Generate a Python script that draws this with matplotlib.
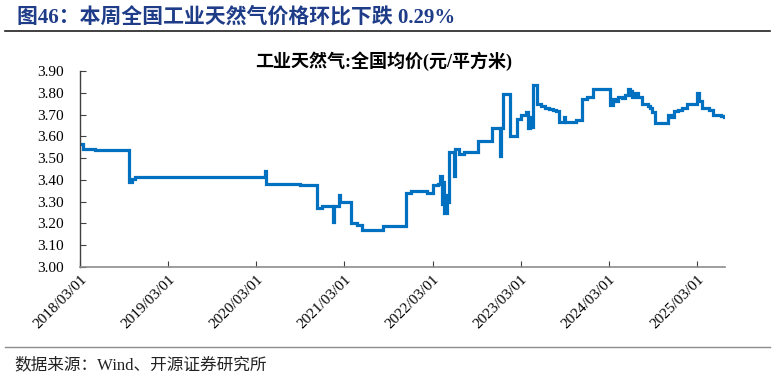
import matplotlib
matplotlib.use("Agg")
import matplotlib.pyplot as plt
import matplotlib.dates as mdates
import pandas as pd

# -----------------------------
# Data (step breakpoints)
# -----------------------------
dates = [
    "2018-03-01", "2018-03-13", "2018-05-02", "2018-09-20", "2018-10-02",
    "2018-10-14", "2020-04-05", "2020-04-09", "2020-08-28", "2020-11-06",
    "2020-11-27", "2021-01-12", "2021-01-16", "2021-02-06", "2021-02-10",
    "2021-03-30", "2021-04-20", "2021-05-14", "2021-08-08", "2021-11-12",
    "2021-12-03", "2022-02-07", "2022-03-01", "2022-03-22", "2022-03-30",
    "2022-04-11", "2022-04-15", "2022-04-19", "2022-04-28", "2022-05-02",
    "2022-05-10", "2022-05-27", "2022-05-31", "2022-06-17", "2022-07-11",
    "2022-09-07", "2022-11-04", "2022-12-07", "2022-12-11", "2022-12-20",
    "2023-01-14", "2023-02-12", "2023-03-01", "2023-03-22", "2023-03-30",
    "2023-04-07", "2023-04-16", "2023-04-20", "2023-05-06", "2023-05-23",
    "2023-06-09", "2023-06-25", "2023-07-12", "2023-07-24", "2023-08-06",
    "2023-08-26", "2023-08-31", "2023-10-15", "2023-11-09", "2023-11-30",
    "2023-12-24", "2024-03-05", "2024-03-18", "2024-03-30", "2024-04-08",
    "2024-04-24", "2024-05-07", "2024-05-19", "2024-05-27", "2024-06-01",
    "2024-06-05", "2024-06-17", "2024-06-30", "2024-07-16", "2024-08-10",
    "2024-08-18", "2024-08-27", "2024-09-08", "2024-10-31", "2024-11-12",
    "2024-11-25", "2024-12-11", "2024-12-28", "2025-01-17", "2025-03-01",
    "2025-03-09", "2025-03-21", "2025-04-20", "2025-05-06", "2025-06-08",
    "2025-06-21",
]
prices = [
    3.565, 3.540, 3.535, 3.390, 3.405,
    3.413, 3.440, 3.380, 3.375, 3.270,
    3.280, 3.205, 3.280, 3.330, 3.300,
    3.200, 3.195, 3.170, 3.190, 3.340,
    3.350, 3.340, 3.375, 3.380, 3.420,
    3.290, 3.390, 3.250, 3.330, 3.300,
    3.530, 3.420, 3.540, 3.520, 3.530,
    3.580, 3.640, 3.510, 3.640, 3.795,
    3.600, 3.680, 3.700, 3.710, 3.640,
    3.690, 3.645, 3.835, 3.750, 3.740,
    3.730, 3.725, 3.720, 3.715, 3.665,
    3.690, 3.665, 3.675, 3.770, 3.780,
    3.815, 3.745, 3.770, 3.760, 3.780,
    3.775, 3.790, 3.815, 3.790, 3.810,
    3.780, 3.800, 3.780, 3.750, 3.740,
    3.730, 3.710, 3.660, 3.700, 3.690,
    3.715, 3.720, 3.730, 3.750, 3.800,
    3.760, 3.730, 3.720, 3.700, 3.695,
    3.690,
]
y_ticks = [3.00, 3.10, 3.20, 3.30, 3.40, 3.50, 3.60, 3.70, 3.80, 3.90]

fig_title = "图46：本周全国工业天然气价格环比下跌 0.29%"
chart_title = "工业天然气:全国均价(元/平方米)"
source_text = "数据来源：Wind、开源证券研究所"

FONTS = ["Liberation Serif", "Noto Sans CJK SC"]
plt.rcParams["font.family"] = FONTS

# -----------------------------
# Figure
# -----------------------------
fig = plt.figure(figsize=(7.74, 3.74), dpi=100)
ax = fig.add_axes([0.1034, 0.2861, 0.8333, 0.5241])

x = pd.to_datetime(dates)
ax.plot(x, prices, color="#0070C0", lw=2.3, drawstyle="steps-post",
        solid_joinstyle="miter")

ax.set_ylim(3.0, 3.9)
ax.set_yticks(y_ticks)
ax.set_yticklabels([f"{v:.2f}" for v in y_ticks])
ax.set_xlim(pd.Timestamp("2018-03-01"), pd.Timestamp("2025-06-25"))
ax.xaxis.set_major_locator(mdates.YearLocator(month=3, day=1))
ax.xaxis.set_major_formatter(mdates.DateFormatter("%Y/%m/%d"))

for side in ["top", "right"]:
    ax.spines[side].set_visible(False)
ax.spines["left"].set_color("#404040")
ax.spines["bottom"].set_color("#8c8c8c")
ax.spines["left"].set_linewidth(1.0)
ax.spines["bottom"].set_linewidth(1.2)

ax.tick_params(axis="y", direction="in", length=4, color="#404040",
               labelsize=11, pad=12)
ax.tick_params(axis="x", direction="in", length=4, color="#404040",
               labelsize=11, pad=4)
for lab in ax.get_xticklabels():
    lab.set_rotation(45)
    lab.set_ha("right")
    lab.set_rotation_mode("anchor")

ax.set_title(chart_title, fontsize=13, fontweight="bold", pad=3, x=0.47)

# header / footer decorations
fig.text(0.022, 0.955, fig_title, fontsize=15, fontweight="bold",
         color="#1F3C88", va="center", ha="left")
fig.add_artist(plt.Line2D([0.007, 0.995], [0.918, 0.918], color="#202020",
                          lw=1.2, transform=fig.transFigure))
fig.add_artist(plt.Line2D([0.007, 0.995], [0.072, 0.072], color="#8c8c8c",
                          lw=1.0, transform=fig.transFigure))
fig.text(0.019, 0.022, source_text, fontsize=12, color="#222222",
         va="center", ha="left")

fig.savefig("out.png", dpi=100)
